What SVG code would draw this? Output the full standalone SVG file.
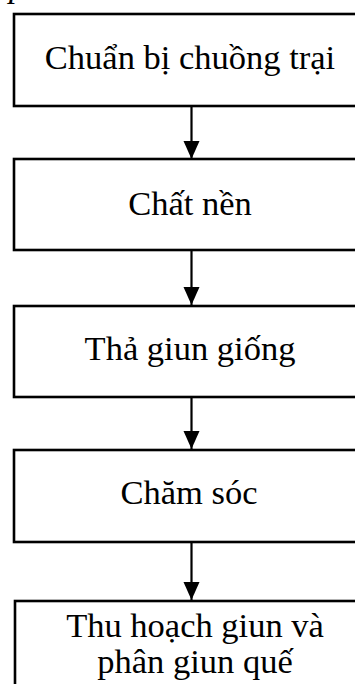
<svg xmlns="http://www.w3.org/2000/svg" width="355" height="684" viewBox="0 0 355 684">
  <style>
    .box { fill: #ffffff; stroke: #000000; stroke-width: 2.6; }
    .lbl { font-family: "Liberation Serif", "Times New Roman", serif; font-size: 34.5px; fill: #000000; text-anchor: middle; }
    .edge { stroke: #000000; stroke-width: 2.2; fill: none; marker-end: url(#arrow); }
  </style>
  <defs>
    <marker id="arrow" markerUnits="userSpaceOnUse" markerWidth="16" markerHeight="19" refX="18" refY="8" orient="auto">
      <path d="M0,0 L18,8 L0,16 Z" fill="#000000"/>
    </marker>
  </defs>
  <rect width="355" height="684" fill="#ffffff"/>

  <!-- tail of the heading line above the chart -->
  <text x="9" y="-3" font-family="Liberation Serif, serif" font-style="italic" font-size="34" fill="#000000">p</text>

  <g id="connectors">
    <path class="edge" d="M191.5,106 L191.5,159"/>
    <path class="edge" d="M191.5,250 L191.5,305"/>
    <path class="edge" d="M191.5,397 L191.5,449"/>
    <path class="edge" d="M191.5,542 L191.5,600"/>
  </g>

  <g id="n1">
    <rect class="box" x="14" y="14" width="360" height="92"/>
    <text class="lbl" x="190" y="69">Chuẩn bị chuồng trại</text>
  </g>
  <g id="n2">
    <rect class="box" x="14" y="159" width="360" height="91"/>
    <text class="lbl" x="190" y="215">Chất nền</text>
  </g>
  <g id="n3">
    <rect class="box" x="14" y="306" width="360" height="91"/>
    <text class="lbl" x="190" y="360">Thả giun giống</text>
  </g>
  <g id="n4">
    <rect class="box" x="14" y="450" width="360" height="92"/>
    <text class="lbl" x="189" y="504">Chăm sóc</text>
  </g>
  <g id="n5">
    <rect class="box" x="15" y="601" width="360" height="100"/>
    <text class="lbl" x="195" y="637">Thu hoạch giun và</text>
    <text class="lbl" x="195" y="673">phân giun quế</text>
  </g>
</svg>
